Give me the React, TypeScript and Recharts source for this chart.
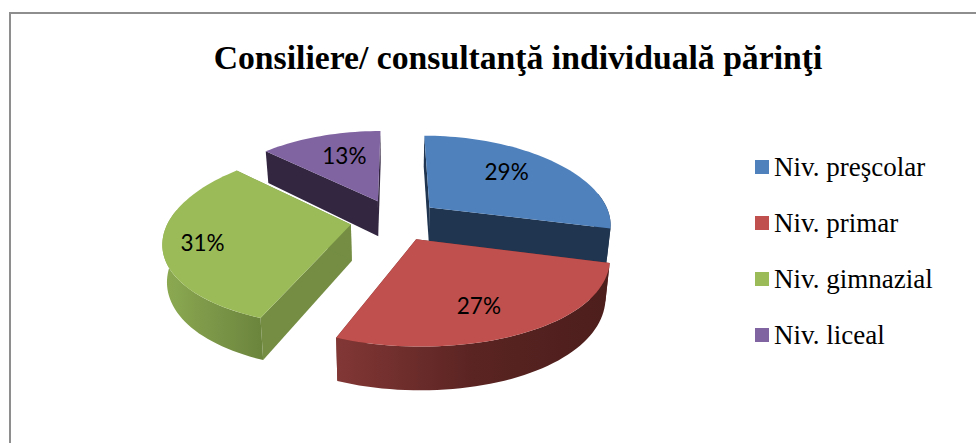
import { Legend, Pie, PieChart } from "recharts";

const categories = ["Niv. preşcolar", "Niv. primar", "Niv. gimnazial", "Niv. liceal"];
const shares = [29, 27, 31, 13];

const topColors = ["#4f81bd", "#c0504d", "#9bbb59", "#8064a2"];
const cutColors = ["#1f3550", "#6a2a28", "#748d43", "#322641"];
const rimStart = ["#1f3550", "#823735", "#8dab52", "#322641"];
const rimMiddle = ["#1f3550", "#5a2422", "#7c9748", "#322641"];
const rimEnd = ["#1f3550", "#4c1e1c", "#6c853d", "#322641"];
const labelRadius = [0.67, 0.68, 0.85, 0.6];
const labelShiftX = [-8, -6, 11, 3];
const labelShiftY = [-4, 5, 1, -5];

const chartData = categories.map((name, i) => ({
  name,
  value: shares[i],
  fill: topColors[i],
  index: i,
}));

// fake 3D: the flat sector angles are pushed through a small perspective projection
const SQUASH = 0.462;
const PERSPECTIVE_X = 0.18;
const PERSPECTIVE_Y = 0.145;
const EXPLODE = 0.246;
const DEPTH = 36;
const BASE_SHRINK = 0.98;

const rad = (deg: number) => (deg * Math.PI) / 180;

function project(cx: number, cy: number, R: number, X: number, Z: number) {
  const p = 1 / (1 + PERSPECTIVE_Y * Z);
  const px = 1 / (1 + PERSPECTIVE_X * Z);
  return { x: cx + X * R * px, y: cy - Z * 185 * SQUASH * p, p };
}

function slicePoint(cx: number, cy: number, R: number, mid: number, angle: number, r: number) {
  const X = EXPLODE * Math.sin(rad(mid)) + r * Math.sin(rad(angle));
  const Z = EXPLODE * Math.cos(rad(mid)) + r * Math.cos(rad(angle));
  return project(cx, cy, R, X, Z);
}

function lowered(cx: number, pt: { x: number; y: number; p: number }) {
  return { x: cx + (pt.x - cx) * BASE_SHRINK, y: pt.y + DEPTH * pt.p, p: pt.p };
}

function toPath(points: { x: number; y: number }[]) {
  return points.map((pt, i) => `${i ? "L" : "M"}${pt.x.toFixed(2)} ${pt.y.toFixed(2)}`).join(" ") + " Z";
}

function arcPoints(cx: number, cy: number, R: number, mid: number, from: number, to: number) {
  const steps = Math.max(2, Math.ceil((to - from) / 2));
  const points = [];
  for (let s = 0; s <= steps; s++) {
    points.push(slicePoint(cx, cy, R, mid, from + ((to - from) * s) / steps, 1));
  }
  return points;
}

function Slice3D(props: any) {
  const { cx, cy, outerRadius: R, startAngle, endAngle, payload } = props;
  const i = payload.index;
  const from = 90 - startAngle;
  const to = 90 - endAngle;
  const mid = (from + to) / 2;

  const apex = slicePoint(cx, cy, R, mid, 0, 0);
  const arc = arcPoints(cx, cy, R, mid, from, to);
  const first = arc[0];
  const last = arc[arc.length - 1];

  const wallFrom = Math.max(from, 80);
  const wallTo = Math.min(to, 280);
  const rim = wallTo > wallFrom ? arcPoints(cx, cy, R, mid, wallFrom, wallTo) : [];
  const rimBase = rim.map((pt) => lowered(cx, pt)).reverse();
  const gradientId = `rim-${i}`;
  const xs = rim.map((pt) => pt.x);

  return (
    <g>
      <path d={toPath([apex, first, lowered(cx, first), lowered(cx, apex)])} fill={cutColors[i]} />
      <path d={toPath([apex, last, lowered(cx, last), lowered(cx, apex)])} fill={cutColors[i]} />
      {rim.length > 0 && (
        <>
          <defs>
            <linearGradient
              id={gradientId}
              gradientUnits="userSpaceOnUse"
              x1={Math.min(...xs)}
              x2={Math.max(...xs)}
              y1={0}
              y2={0}
            >
              <stop offset="0" stopColor={rimStart[i]} />
              <stop offset="0.5" stopColor={rimMiddle[i]} />
              <stop offset="1" stopColor={rimEnd[i]} />
            </linearGradient>
          </defs>
          <path d={toPath([...rim, ...rimBase])} fill={`url(#${gradientId})`} />
        </>
      )}
      <path d={toPath([apex, ...arc])} fill={topColors[i]} />
    </g>
  );
}

function SliceLabel(props: any) {
  const { cx, cy, outerRadius: R, startAngle, endAngle, index, value } = props;
  const from = 90 - startAngle;
  const to = 90 - endAngle;
  const mid = (from + to) / 2;
  const pt = slicePoint(cx, cy, R, mid, mid, labelRadius[index]);
  return (
    <text
      x={pt.x + labelShiftX[index]}
      y={pt.y + labelShiftY[index]}
      textAnchor="middle"
      dominantBaseline="central"
      fontFamily="Lato, sans-serif"
      fontSize={22.5}
      fill="#000"
    >
      {value}%
    </text>
  );
}

function LegendList() {
  return (
    <div>
      {categories.map((name, i) => (
        <div key={name} style={{ display: "flex", alignItems: "center", height: 56 }}>
          <span style={{ width: 14, height: 14, background: topColors[i], marginRight: 5 }} />
          <span style={{ fontFamily: "'Liberation Serif', serif", fontSize: 27, color: "#000", whiteSpace: "nowrap" }}>
            {name}
          </span>
        </div>
      ))}
    </div>
  );
}

export default function App() {
  return (
    <div style={{ position: "absolute", left: 0, top: 0, width: 976, height: 443, background: "#fff", overflow: "hidden" }}>
      <div
        style={{
          position: "absolute",
          left: 9,
          top: 12,
          width: 976,
          height: 443,
          borderTop: "2px solid #8e8e8e",
          borderLeft: "2px solid #8e8e8e",
        }}
      />
      <PieChart width={976} height={443} margin={{ top: 0, right: 0, bottom: 0, left: 0 }}>
        <text
          x={518}
          y={69}
          textAnchor="middle"
          fontFamily="'Liberation Serif', serif"
          fontWeight="bold"
          fontSize={33.7}
          fill="#000"
        >
          Consiliere/ consultanţă individuală părinţi
        </text>
        <Pie
          data={chartData}
          dataKey="value"
          nameKey="name"
          cx={395}
          cy={220}
          outerRadius={182}
          startAngle={90}
          endAngle={-270}
          stroke="none"
          shape={Slice3D}
          label={SliceLabel}
          labelLine={false}
          isAnimationActive={false}
        />
        <Legend content={LegendList} wrapperStyle={{ position: "absolute", left: 755, top: 139, width: 215, bottom: "auto", right: "auto" }} />
      </PieChart>
    </div>
  );
}
